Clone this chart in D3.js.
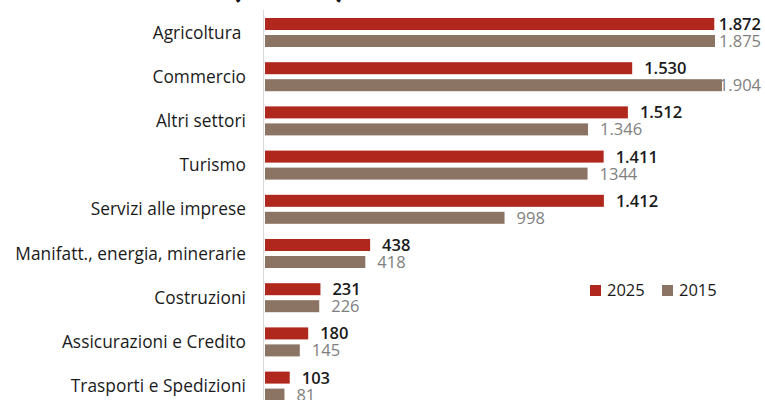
<!DOCTYPE html>
<html>
<head>
<meta charset="utf-8">
<script src="https://cdn.jsdelivr.net/npm/d3@7"></script>
<style>
  body { margin: 0; background: #fff; }
  svg { display: block; font-family: "Open Sans", Lato, sans-serif; }
  text { white-space: pre; }
</style>
</head>
<body>
<div class="chart"></div>
<script>
const categories = ["Agricoltura ", "Commercio", "Altri settori", "Turismo", "Servizi alle imprese",
  "Manifatt., energia, minerarie", "Costruzioni", "Assicurazioni e Credito", "Trasporti e Spedizioni"]
const values2025 = [1872, 1530, 1512, 1411, 1412, 438, 231, 180, 103]
const values2015 = [1875, 1904, 1346, 1344, 998, 418, 226, 145, 81]
const labels2025 = ["1.872", "1.530", "1.512", "1.411", "1.412", "438", "231", "180", "103"]
const labels2015 = ["1.875", "1.904", "1.346", "1344", "998", "418", "226", "145", "81"]
const seriesNames = ["2025", "2015"]
const colors = ["#b0271d", "#8b7464"]

const width = 765
const height = 400

const svg = d3.select('.chart')
  .append('svg')
  .attr('width', width)
  .attr('height', height)

// title is cut off by the frame, only the parentheses tails show
svg.append('text')
  .attr('x', 231)
  .attr('y', -3)
  .attr('font-family', 'Lato, sans-serif')
  .attr('font-size', 37)
  .attr('font-weight', 'bold')
  .attr('fill', '#111')
  .text('(totale)')

const y = d3.scaleBand()
  .domain(categories)
  .range([10.4, 10.4 + 44.2 * categories.length])

const ySub = d3.scaleBand()
  .domain(seriesNames)
  .range([7.6, 36.6])
  .paddingInner(0.294)

const x = d3.scaleLinear()
  .domain([0, 2000])
  .range([265, 745])

// axis line
svg.append('line')
  .attr('x1', 263.5).attr('x2', 263.5)
  .attr('y1', 10).attr('y2', height)
  .attr('stroke', '#d9d9d9')
  .attr('stroke-width', 1)

svg.selectAll('.cat')
  .data(categories)
  .enter()
  .append('text')
  .attr('x', 246)
  .attr('y', d => y(d) + y.bandwidth() / 2)
  .attr('dy', '0.35em')
  .attr('text-anchor', 'end')
  .attr('font-size', 17.3)
  .attr('letter-spacing', 0.05)
  .attr('fill', '#1a1a1a')
  .text(d => d)

const rows = categories.map((c, i) => [
  { cat: c, s: 0, v: values2025[i], label: labels2025[i] },
  { cat: c, s: 1, v: values2015[i], label: labels2015[i] }
]).flat()

svg.selectAll('.bar')
  .data(rows)
  .enter()
  .append('rect')
  .attr('x', x(0))
  .attr('y', d => y(d.cat) + ySub(seriesNames[d.s]))
  .attr('width', d => x(d.v) - x(0))
  .attr('height', ySub.bandwidth())
  .attr('fill', d => colors[d.s])

svg.selectAll('.val')
  .data(rows)
  .enter()
  .append('text')
  .attr('y', d => y(d.cat) + ySub(seriesNames[d.s]) + ySub.bandwidth() / 2)
  .attr('dy', '0.36em')
  .attr('font-size', 16.5)
  .attr('font-weight', d => d.s === 0 ? 600 : 'normal')
  .attr('fill', d => d.s === 0 ? '#1a1a1a' : '#808080')
  .text(d => d.label)
  .attr('x', function (d) {
    const w = this.getComputedTextLength()
    return Math.min(x(d.v) + 12, width - 4 - w)
  })

// legend
const legend = svg.selectAll('.legend')
  .data(seriesNames)
  .enter()
  .append('g')
  .attr('transform', (d, i) => `translate(${590 + i * 72}, 285)`)

legend.append('rect')
  .attr('width', 11)
  .attr('height', 11)
  .attr('fill', (d, i) => colors[i])

legend.append('text')
  .attr('x', 17)
  .attr('y', 5.5)
  .attr('dy', '0.36em')
  .attr('font-size', 16.5)
  .attr('fill', '#1a1a1a')
  .text(d => d)
</script>
</body>
</html>
